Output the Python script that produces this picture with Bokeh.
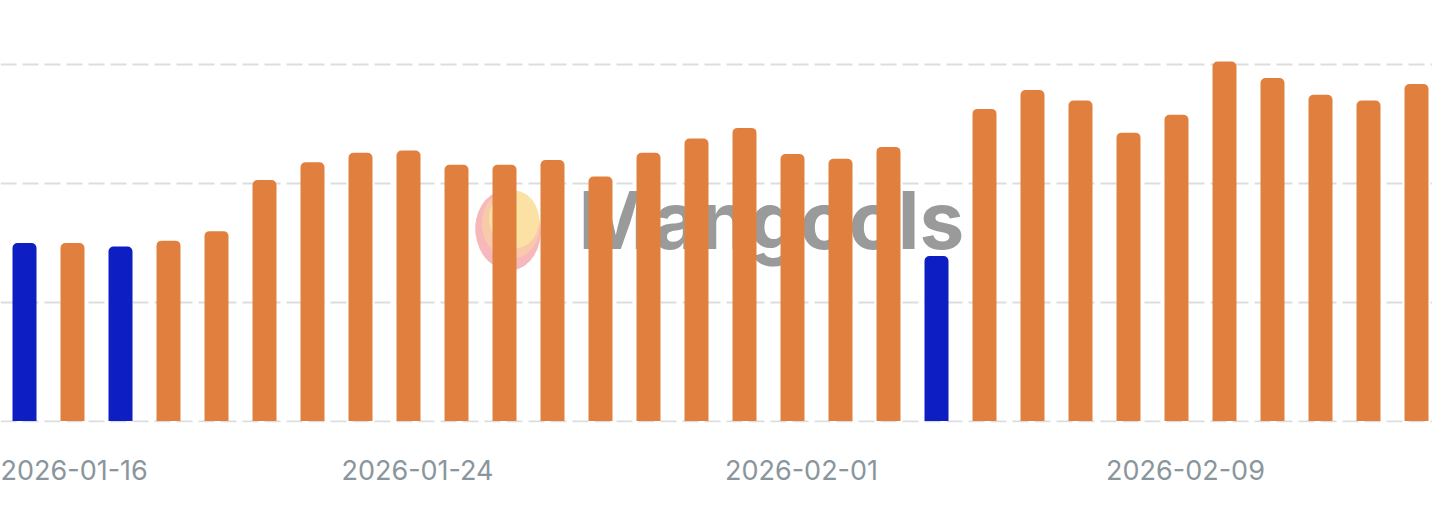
from bokeh.plotting import figure
from bokeh.models import FixedTicker, Range1d, ColumnDataSource
from bokeh.core.properties import value
from bokeh.embed import file_html
from bokeh.resources import INLINE

dates = ["2026-01-16", "2026-01-17", "2026-01-18", "2026-01-19", "2026-01-20",
         "2026-01-21", "2026-01-22", "2026-01-23", "2026-01-24", "2026-01-25",
         "2026-01-26", "2026-01-27", "2026-01-28", "2026-01-29", "2026-01-30",
         "2026-01-31", "2026-02-01", "2026-02-02", "2026-02-03", "2026-02-04",
         "2026-02-05", "2026-02-06", "2026-02-07", "2026-02-08", "2026-02-09",
         "2026-02-10", "2026-02-11", "2026-02-12", "2026-02-13", "2026-02-14"]
values = [1.50, 1.50, 1.47, 1.52, 1.60, 2.03, 2.18, 2.26, 2.28, 2.16,
          2.16, 2.20, 2.06, 2.26, 2.38, 2.47, 2.25, 2.21, 2.31, 1.39,
          2.63, 2.79, 2.70, 2.43, 2.58, 3.03, 2.89, 2.75, 2.70, 2.84]
group = ["b", "a", "b", "a", "a", "a", "a", "a", "a", "a",
         "a", "a", "a", "a", "a", "a", "a", "a", "a", "b",
         "a", "a", "a", "a", "a", "a", "a", "a", "a", "a"]
tick_labels = ["2026-01-16", "2026-01-24", "2026-02-01", "2026-02-09"]
grid_values = [0, 1, 2, 3]

colors_by_group = {"a": "#E1803E", "b": "#0D1FC3"}

W, H = 1432, 522
PX = 118.667  # pixels per unit
idx = list(range(len(dates)))
src = ColumnDataSource(dict(x=idx, top=values, date=dates,
                            color=[colors_by_group[g] for g in group]))

p = figure(width=W, height=H, output_backend="svg", toolbar_location=None,
           x_range=Range1d(-0.5, -0.5 + W / 48), y_range=Range1d(-1.5 / PX, 3 + 64.5 / PX),
           min_border_left=0, min_border_right=0, min_border_top=0, min_border_bottom=100)
p.outline_line_color = None
p.background_fill_color = "white"
p.border_fill_color = "white"
p.yaxis.visible = False

# watermark (behind bars)
p.ellipse(x=[10.07], y=[1.605], width=[65], height=[80], width_units="screen",
          height_units="screen", fill_color="#F6B8BA", line_color=None, angle=0.12)
p.ellipse(x=[10.13], y=[1.655], width=[58], height=[68], width_units="screen",
          height_units="screen", fill_color="#F8C9AA", line_color=None, angle=0.12)
p.ellipse(x=[10.2], y=[1.70], width=[50], height=[58], width_units="screen",
          height_units="screen", fill_color="#FBE1A3", line_color=None, angle=0.12)
p.text(x=[11.54], y=[1.698], text=["Mangools"], text_font=value("Inter"),
       text_font_style="bold", text_font_size="80px", text_color="#9A9A9A",
       text_align="left", text_baseline="alphabetic")

p.vbar(x="x", top="top", bottom=0, width=0.5, source=src, fill_color="color",
       line_color=None, border_radius=(5, 5, 0, 0))

# grid
p.xgrid.visible = False
p.ygrid.ticker = FixedTicker(ticks=grid_values)
p.ygrid.grid_line_color = "#DCDDDF"
p.ygrid.grid_line_width = 2
p.ygrid.grid_line_dash = "16 6"

# x axis labels
label_offset = 9 / 48
tick_pos = [dates.index(t) + label_offset for t in tick_labels]
p.xaxis.ticker = FixedTicker(ticks=tick_pos)
p.xaxis.major_label_overrides = {tp: t for tp, t in zip(tick_pos, tick_labels)}
p.xaxis.minor_tick_line_color = None
p.xaxis.major_tick_line_color = None
p.xaxis.major_tick_out = 0
p.xaxis.major_tick_in = 0
p.xaxis.axis_line_color = None
p.xaxis.major_label_standoff = 37
p.xaxis.major_label_text_font = "Inter"
p.xaxis.major_label_text_font_size = "27px"
p.xaxis.major_label_text_color = "#8A969C"

open("out.html", "w").write(file_html(p, INLINE))
